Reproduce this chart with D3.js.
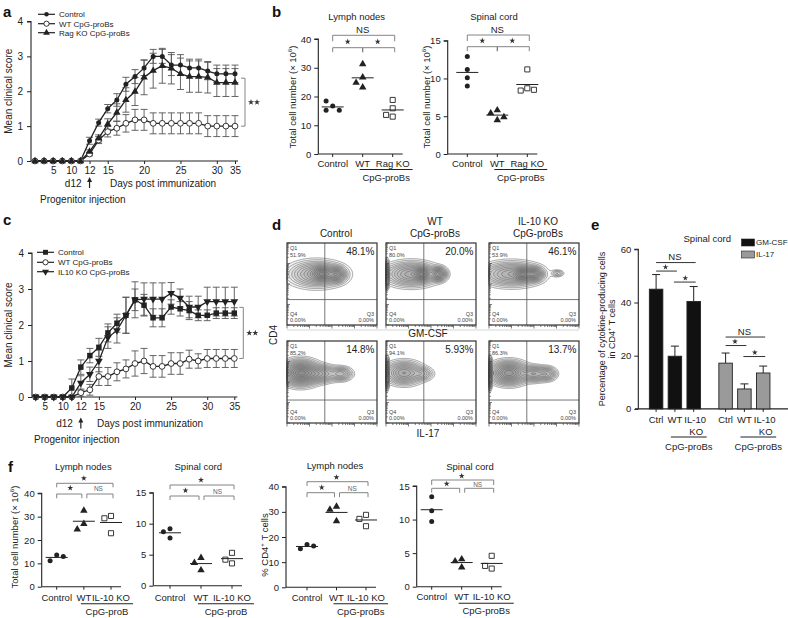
<!DOCTYPE html>
<html><head><meta charset="utf-8">
<script src="https://cdn.jsdelivr.net/npm/d3@7"></script>
<style>
body{margin:0;background:#fff;}
svg{display:block;}
</style></head><body>
<svg id="fig" width="788" height="618"></svg>
<script>
// ================= DATA =================
// Panel a – clinical score time course
const aDays = [1,3,5,8,10,11,12,14,15,16,17,19,20,21,22,24,25,26,27,29,30,32,35];
const aDayTicks = [5,10,12,15,20,25,30,35];
const aLegend = ["Control", "WT CpG-proBs", "Rag KO CpG-proBs"];
const aControl    = [0,0,0,0,0,0,0.58,1.10,1.50,1.75,2.20,2.42,2.67,3.00,3.00,2.75,2.75,2.67,2.67,2.58,2.50,2.50,2.50];
const aControlErr = [0,0,0,0,0,0,0.10,0.10,0.12,0.18,0.20,0.20,0.22,0.20,0.20,0.30,0.30,0.25,0.25,0.25,0.25,0.25,0.25];
const aWT         = [0,0,0,0,0,0,0.20,0.60,0.84,0.94,1.08,1.18,1.18,1.08,1.08,1.08,1.08,1.08,1.08,1.00,1.00,1.00,1.00];
const aWTErr      = [0,0,0,0,0,0,0.05,0.10,0.15,0.20,0.25,0.30,0.30,0.30,0.30,0.30,0.30,0.30,0.30,0.30,0.30,0.30,0.30];
const aRagKO      = [0,0,0,0,0,0,0.27,0.65,1.06,1.39,1.75,1.99,2.40,2.59,2.73,2.66,2.50,2.42,2.42,2.40,2.25,2.25,2.25];
const aRagKOErr   = [0,0,0,0,0,0,0.05,0.10,0.15,0.25,0.35,0.40,0.50,0.50,0.50,0.45,0.45,0.45,0.45,0.45,0.40,0.40,0.40];

// Panel c – clinical score time course
const cDays = [3,5,8,10,11,12,13,15,16,17,18,20,21,22,23,25,26,27,29,30,32,33,35];
const cDayTicks = [5,10,12,15,20,25,30,35];
const cLegend = ["Control", "WT CpG-proBs", "IL10 KO CpG-proBs"];
const cControl    = [0,0,0,0,0.25,0.83,1.15,1.38,1.78,2.05,2.27,2.70,2.55,2.20,2.20,2.50,2.45,2.40,2.27,2.27,2.33,2.33,2.33];
const cControlErr = [0,0,0,0,0.25,0.20,0.20,0.25,0.25,0.25,0.50,0.30,0.30,0.25,0.25,0.20,0.20,0.25,0.15,0.15,0.15,0.15,0.15];
const cWT         = [0,0,0,0,0,0.12,0.20,0.57,0.57,0.70,0.78,0.93,1.00,0.85,0.85,0.93,0.93,1.05,1.00,1.07,1.07,1.07,1.07];
const cWTErr      = [0,0,0,0,0,0.10,0.15,0.25,0.25,0.25,0.25,0.35,0.35,0.30,0.30,0.30,0.30,0.25,0.20,0.25,0.25,0.25,0.25];
const cIL10KO     = [0,0,0,0,0,0.39,0.63,1.00,1.65,1.85,2.27,2.70,2.72,2.72,2.72,2.88,2.75,2.50,2.50,2.65,2.65,2.65,2.65];
const cIL10KOErr  = [0,0,0,0,0,0.20,0.20,0.30,0.30,0.35,0.50,0.50,0.45,0.45,0.45,0.30,0.25,0.30,0.30,0.40,0.40,0.40,0.40];

// Panel b – total cell numbers (x10^6)
const bGroups = ["Control", "WT", "Rag KO"];
const bLymphControl = [16.7, 18.4, 15.2, 15.2];
const bLymphWT      = [31.3, 26.7, 23.2, 24.8];
const bLymphRagKO   = [18.8, 15.9, 13.0, 13.6];
const bSpinalControl = [12.9, 11.2, 10.1, 9.0];
const bSpinalWT      = [5.8, 5.4, 4.5, 4.9];
const bSpinalRagKO   = [11.2, 8.7, 8.4, 8.5];

// Panel d – flow cytometry (CD4 vs IL-17), quadrant percentages
const dColumns = [["Control"], ["WT", "CpG-proBs"], ["IL-10 KO", "CpG-proBs"]];
const dTopQ1 = ["51.9%", "80.0%", "53.9%"];
const dTopQ2 = ["48.1%", "20.0%", "46.1%"];
const dBotQ1 = ["85.2%", "94.1%", "86.3%"];
const dBotQ2 = ["14.8%", "5.93%", "13.7%"];
const dQ3 = "0.00%", dQ4 = "0.00%";
// population clusters [IL-17 axis fraction, CD4 axis fraction, sdX, sdY, weight]
const dTopClusters = [
  [[0.33,0.62,0.15,0.075,0.6],[0.39,0.625,0.06,0.045,1.0],[0.55,0.615,0.05,0.045,0.9]],
  [[0.01,0.62,0.012,0.07,1.2],[0.28,0.62,0.14,0.07,0.6],[0.40,0.62,0.05,0.04,0.9],[0.58,0.62,0.045,0.04,0.8]],
  [[0.25,0.62,0.16,0.07,0.6],[0.37,0.62,0.05,0.04,1.0],[0.50,0.62,0.05,0.04,0.9],[0.76,0.63,0.035,0.02,0.15]]
];
const dBotClusters = [
  [[0.15,0.61,0.10,0.07,1.0],[0.36,0.60,0.10,0.05,0.4],[0.60,0.60,0.06,0.04,0.3]],
  [[0.01,0.61,0.012,0.08,1.4],[0.20,0.61,0.10,0.065,0.7],[0.40,0.60,0.06,0.04,0.25]],
  [[0.01,0.61,0.012,0.08,1.0],[0.22,0.61,0.10,0.065,0.8],[0.50,0.60,0.08,0.045,0.4],[0.65,0.60,0.05,0.04,0.25]]
];

// Panel e – % cytokine-producing cells in CD4+ T cells
const eGroups = ["Ctrl", "WT", "IL-10 KO"];
const eCytokines = ["GM-CSF", "IL-17"];
const eGMCSF    = [45.0, 19.8, 40.4];
const eGMCSFErr = [5.5, 3.8, 5.6];
const eIL17     = [17.2, 7.5, 13.5];
const eIL17Err  = [3.8, 1.9, 2.6];

// Panel f
const fGroups = ["Control", "WT", "IL-10 KO"];
const fLymphTotalControl = [13.6, 11.1, 12.9];
const fLymphTotalWT      = [32.6, 26.9, 24.6];
const fLymphTotalIL10KO  = [30.3, 29.3, 22.9];
const fSpinalTotalControl = [9.2, 8.7, 7.7];
const fSpinalTotalWT      = [4.5, 3.7, 2.5];
const fSpinalTotalIL10KO  = [5.3, 3.6, 4.2];
const fLymphCD4Control = [17.0, 15.3, 16.4];
const fLymphCD4WT      = [32.1, 30.9, 26.3];
const fLymphCD4IL10KO  = [28.8, 27.2, 24.3];
const fSpinalCD4Control = [13.4, 11.3, 9.7];
const fSpinalCD4WT      = [4.1, 3.8, 2.9];
const fSpinalCD4IL10KO  = [4.6, 2.7, 3.1];

// ================= DRAWING =================
const FONT = '"Liberation Sans", Arial, Helvetica, sans-serif';
const INK = '#222';
const svg = d3.select('#fig').attr('font-family', FONT);
svg.append('rect').attr('width', 788).attr('height', 618).attr('fill', '#fff');

function T(g, x, cy, s, o = {}) {
  const size = o.size || 10;
  const t = g.append('text').attr('font-size', size).attr('fill', o.fill || INK)
    .attr('text-anchor', o.anchor || 'middle');
  if (o.weight) t.attr('font-weight', o.weight);
  if (o.rotate) t.attr('transform', `translate(${x + size * 0.35},${cy}) rotate(-90)`);
  else t.attr('x', x).attr('y', cy + size * 0.35);
  const parts = Array.isArray(s) ? s : [[s, 0]];
  let raised = false;
  parts.forEach(([str, sup]) => {
    const ts = t.append('tspan').text(str);
    if (sup) {
      ts.attr('font-size', size * 0.65);
      if (!raised) { ts.attr('dy', -size * 0.42); raised = true; }
    } else if (raised) { ts.attr('dy', size * 0.42); raised = false; }
  });
  return t;
}
function styleAxis(sel, size) {
  sel.attr('font-size', size).attr('font-family', FONT);
  sel.selectAll('text').attr('fill', INK);
  sel.selectAll('line').attr('stroke', INK).attr('stroke-width', 1);
  sel.selectAll('path.domain').attr('stroke', INK).attr('stroke-width', 1.1);
}
function marker(g, type, x, y, k = 1) {
  const sym = (s, size) => g.append('path').attr('d', d3.symbol(s, size * k * k)()).attr('transform', `translate(${x},${y})`);
  switch (type) {
    case 'dot': return g.append('circle').attr('cx', x).attr('cy', y).attr('r', 2.5 * k).attr('fill', INK);
    case 'odot': return g.append('circle').attr('cx', x).attr('cy', y).attr('r', 2.9 * k).attr('fill', '#fff').attr('stroke', INK).attr('stroke-width', 0.9);
    case 'tri': return sym(d3.symbolTriangle, 24).attr('fill', INK);
    case 'itri': return sym(d3.symbolTriangle, 26).attr('fill', INK).attr('transform', `translate(${x},${y}) rotate(180)`);
    case 'square': return sym(d3.symbolSquare, 30).attr('fill', INK);
    case 'osquare': return sym(d3.symbolSquare, 26).attr('fill', '#fff').attr('stroke', INK).attr('stroke-width', 0.9);
  }
}
function star(g, x, y, size = 11, fill = '#333') {
  g.append('path').attr('d', d3.symbol(d3.symbolStar, size)()).attr('transform', `translate(${x},${y})`).attr('fill', fill);
}

// ---------- time course (a, c) ----------
function timeCourse(o) {
  const g = svg.append('g');
  const x = d3.scalePoint().domain(o.days).range([o.x0, o.x1]);
  const y = d3.scaleLinear().domain([0, 4]).range([o.yb, o.yt]);
  const ya = g.append('g').attr('transform', `translate(${o.ax},0)`)
    .call(d3.axisLeft(y).tickValues([0, 1, 2, 3, 4]).tickSize(4).tickPadding(4).tickFormat(d3.format('d')));
  styleAxis(ya, 10);
  ya.select('.domain').attr('d', `M-4,${o.yt}H0V${o.yb}`);
  const xa = g.append('g').attr('transform', `translate(0,${o.yb})`)
    .call(d3.axisBottom(x).tickValues(o.ticks).tickSize(3).tickPadding(3));
  styleAxis(xa, 10);
  xa.select('.domain').remove();
  g.append('line').attr('x1', o.ax).attr('x2', o.x1 + 3).attr('y1', o.yb).attr('y2', o.yb).attr('stroke', INK).attr('stroke-width', 1.1);
  T(g, o.ylabX, (o.yb + o.yt) / 2, 'Mean clinical score', { size: 10, rotate: true });
  // error bars
  o.series.forEach(s => s.values.forEach((v, i) => {
    const e = s.err[i]; if (!e) return;
    const cx = x(o.days[i]);
    const y1 = y(v + e), y2 = y(Math.max(0, v - e));
    g.append('line').attr('x1', cx).attr('x2', cx).attr('y1', y1).attr('y2', y2).attr('stroke', '#555').attr('stroke-width', 0.9);
    [y1, y2].forEach(yy => g.append('line').attr('x1', cx - 3.5).attr('x2', cx + 3.5).attr('y1', yy).attr('y2', yy).attr('stroke', '#555').attr('stroke-width', 0.9));
  }));
  o.series.forEach(s => g.append('path').datum(s.values)
    .attr('d', d3.line().x((d, i) => x(o.days[i])).y(d => y(d)))
    .attr('fill', 'none').attr('stroke', INK).attr('stroke-width', 1.3));
  o.series.forEach(s => s.values.forEach((v, i) => marker(g, s.marker, x(o.days[i]), y(v))));
  // legend
  o.series.forEach((s, i) => {
    const ly = o.legY[i];
    g.append('line').attr('x1', o.legX).attr('x2', o.legX + 17).attr('y1', ly).attr('y2', ly).attr('stroke', INK).attr('stroke-width', 1.2);
    marker(g, s.marker, o.legX + 8.5, ly, 0.9);
    T(g, o.legX + 21, ly, s.name, { size: 8, anchor: 'start' });
  });
  // significance bracket
  const last = o.days.length - 1;
  const top = y(d3.mean(o.series.filter(s => s.high), s => s.values[last]));
  const bot = y(o.series.find(s => !s.high).values[last]);
  g.append('path').attr('d', `M${o.bx - 4},${top}H${o.bx}V${bot}H${o.bx - 4}`).attr('fill', 'none').attr('stroke', '#777').attr('stroke-width', 0.9);
  star(g, o.bx + 6, (top + bot) / 2, 12); star(g, o.bx + 12, (top + bot) / 2, 12);
  // day-12 annotation
  const ax12 = x(12);
  T(g, ax12 - 8, o.annY, 'd12', { size: 10, anchor: 'end' });
  g.append('line').attr('x1', ax12).attr('x2', ax12).attr('y1', o.annY + 5).attr('y2', o.annY - 2).attr('stroke', INK).attr('stroke-width', 1.2);
  g.append('path').attr('d', `M${ax12 - 2.5},${o.annY - 1}L${ax12},${o.annY - 6}L${ax12 + 2.5},${o.annY - 1}Z`).attr('fill', INK);
  T(g, o.daysX, o.annY, 'Days post immunization', { size: 10, anchor: 'start' });
  T(g, o.progX, o.annY + 16, 'Progenitor injection', { size: 10, anchor: 'start' });
}

timeCourse({
  days: aDays, ticks: aDayTicks, ax: 31, x0: 35, x1: 235, yb: 161, yt: 21.5, ylabX: 8,
  series: [
    { name: aLegend[0], values: aControl, err: aControlErr, marker: 'dot', high: true },
    { name: aLegend[1], values: aWT, err: aWTErr, marker: 'odot', high: false },
    { name: aLegend[2], values: aRagKO, err: aRagKOErr, marker: 'tri', high: true }
  ],
  legX: 38, legY: [14.3, 23.7, 32.7], bx: 245, annY: 183, daysX: 110, progX: 40
});
timeCourse({
  days: cDays, ticks: cDayTicks, ax: 32, x0: 35.7, x1: 234.3, yb: 397, yt: 253, ylabX: 8,
  series: [
    { name: cLegend[0], values: cControl, err: cControlErr, marker: 'square', high: true },
    { name: cLegend[1], values: cWT, err: cWTErr, marker: 'odot', high: false },
    { name: cLegend[2], values: cIL10KO, err: cIL10KOErr, marker: 'itri', high: true }
  ],
  legX: 37, legY: [252.3, 262.3, 271.7], bx: 243.3, annY: 423.5, daysX: 97, progX: 34
});

// ---------- dot plots (b, f) ----------
function dodge(values, y, cx, r) {
  const placed = [], xs = [];
  values.forEach((v, i) => {
    const py = y(v), step = 2 * r + 1.2;
    for (const k of [0, -1, 1, -2, 2, -3, 3]) {
      const px = cx + k * step;
      if (placed.every(p => Math.hypot(p[0] - px, p[1] - py) >= 2 * r + 0.6)) { placed.push([px, py]); xs[i] = px; break; }
    }
  });
  return xs;
}
function dotPlot(o) {
  const g = svg.append('g');
  const y = d3.scaleLinear().domain([0, o.max]).range([o.yb, o.yt]);
  const x = d3.scalePoint().domain(o.groups).range([o.c0, o.c1]);
  const ya = g.append('g').attr('transform', `translate(${o.ax},0)`)
    .call(d3.axisLeft(y).tickValues(o.ticks).tickSize(4).tickPadding(3));
  styleAxis(ya, 9.5);
  ya.select('.domain').attr('d', `M-4,${o.yt}H0V${o.yb}`);
  g.append('line').attr('x1', o.ax).attr('x2', o.c1 + 10).attr('y1', o.yb).attr('y2', o.yb).attr('stroke', INK).attr('stroke-width', 1.1);
  o.groups.forEach(c => g.append('line').attr('x1', x(c)).attr('x2', x(c)).attr('y1', o.yb).attr('y2', o.yb + 3).attr('stroke', INK));
  T(g, o.titleX, o.titleY, o.title, { size: 9.5 });
  if (o.ylabel) T(g, o.ylabel[0], o.ylabel[1], o.ylabel[2], { size: 9.5, rotate: true });
  const labs = o.groups.map(c => T(g, x(c), o.labY, c, { size: 9.5 }));
  const ll = labs[2].node().getBBox();
  const u0 = x(o.groups[1]) - 3, u1 = ll.x + ll.width + 3;
  g.append('line').attr('x1', u0).attr('x2', u1).attr('y1', o.labY + 6.2).attr('y2', o.labY + 6.2).attr('stroke', INK).attr('stroke-width', 1.1);
  T(g, (u0 + u1) / 2, o.labY + 14, o.groupLabel, { size: 9.5 });
  // points
  o.sets.forEach((vals, gi) => {
    const cx = x(o.groups[gi]);
    const xs = dodge(vals, y, cx, 2.7);
    vals.forEach((v, i) => marker(g, o.markers[gi], xs[i], y(v)));
    const m = y(d3.mean(vals));
    g.append('line').attr('x1', cx - 11).attr('x2', cx + 11).attr('y1', m).attr('y2', m).attr('stroke', INK).attr('stroke-width', 1);
  });
  // brackets
  const bc = '#777';
  const br = (x1, x2, yy, tk) => g.append('path').attr('d', `M${x1},${yy + tk}V${yy}H${x2}V${yy + tk}`).attr('fill', 'none').attr('stroke', bc).attr('stroke-width', 0.9);
  const X = i => x(o.groups[i]);
  const B = o.br;
  br(X(0), X(2) + 2, B.top, B.topTick);
  if (o.shared) {
    br(X(0), X(1), B.low, B.lowTick); br(X(1), X(2) + 2, B.low, B.lowTick);
  } else {
    br(X(0), X(1) - 2, B.low, B.lowTick); br(X(1) + 3, X(2) + 2, B.low, B.lowTick);
  }
  const mid01 = (X(0) + X(1)) / 2, mid12 = (X(1) + X(2)) / 2;
  if (o.topLabel === 'NS') T(g, (X(0) + X(2)) / 2, B.topText, 'NS', { size: 9.5 });
  else star(g, (X(0) + X(2)) / 2, B.topText, 11);
  star(g, mid01, B.lowText, 11);
  if (o.rightLabel === 'NS') T(g, mid12 + 1, B.lowText + 1, 'NS', { size: 6.5, fill: '#666' });
  else star(g, mid12, B.lowText, 11);
}

dotPlot({
  groups: bGroups, sets: [bLymphControl, bLymphWT, bLymphRagKO], markers: ['dot', 'tri', 'osquare'],
  max: 40, ticks: [0, 10, 20, 30, 40], ax: 318.3, yb: 154, yt: 39, c0: 332.7, c1: 392.7,
  title: 'Lymph nodes', titleX: 356.7, titleY: 16.7,
  ylabel: [293, 97, [['Total cell number (× 10', 0], ['6', 1], [')', 0]]],
  labY: 163.3, groupLabel: 'CpG-proBs', shared: true, topLabel: 'NS', rightLabel: '*',
  br: { top: 35.3, topTick: 6, topText: 30, low: 47.7, lowTick: 4.5, lowText: 41.7 }
});
dotPlot({
  groups: bGroups, sets: [bSpinalControl, bSpinalWT, bSpinalRagKO], markers: ['dot', 'tri', 'osquare'],
  max: 15, ticks: [0, 5, 10, 15], ax: 447.7, yb: 154, yt: 40.7, c0: 467.3, c1: 527.3,
  title: 'Spinal cord', titleX: 494, titleY: 16.7,
  ylabel: [426.7, 97, [['Total cell number (× 10', 0], ['6', 1], [')', 0]]],
  labY: 163.3, groupLabel: 'CpG-proBs', shared: true, topLabel: 'NS', rightLabel: '*',
  br: { top: 35, topTick: 6, topText: 30, low: 46.7, lowTick: 4.5, lowText: 40.7 }
});
dotPlot({
  groups: fGroups, sets: [fLymphTotalControl, fLymphTotalWT, fLymphTotalIL10KO], markers: ['dot', 'tri', 'osquare'],
  max: 40, ticks: [0, 10, 20, 30, 40], ax: 41.7, yb: 586.7, yt: 493.3, c0: 56.7, c1: 111,
  title: 'Lymph nodes', titleX: 83.3, titleY: 466.7,
  ylabel: [15, 537, [['Total cell number (× 10', 0], ['6', 1], [')', 0]]],
  labY: 597.5, groupLabel: 'CpG-proB', shared: false, topLabel: '*', rightLabel: 'NS',
  br: { top: 483.3, topTick: 4, topText: 478.3, low: 494, lowTick: 4.3, lowText: 488 }
});
dotPlot({
  groups: fGroups, sets: [fSpinalTotalControl, fSpinalTotalWT, fSpinalTotalIL10KO], markers: ['dot', 'tri', 'osquare'],
  max: 15, ticks: [0, 5, 10, 15], ax: 153.3, yb: 585.7, yt: 492.7, c0: 170, c1: 232,
  title: 'Spinal cord', titleX: 198.3, titleY: 466.7,
  labY: 597.5, groupLabel: 'CpG-proB', shared: false, topLabel: '*', rightLabel: 'NS',
  br: { top: 485, topTick: 4.3, topText: 480, low: 496, lowTick: 4, lowText: 490.5 }
});
dotPlot({
  groups: fGroups, sets: [fLymphCD4Control, fLymphCD4WT, fLymphCD4IL10KO], markers: ['dot', 'tri', 'osquare'],
  max: 40, ticks: [0, 10, 20, 30, 40], ax: 286, yb: 587.3, yt: 486.7, c0: 307, c1: 366,
  title: 'Lymph nodes', titleX: 335, titleY: 466,
  ylabel: [265, 545, [['% CD4', 0], ['+', 1], [' T cells', 0]]],
  labY: 597.5, groupLabel: 'CpG-proBs', shared: false, topLabel: '*', rightLabel: 'NS',
  br: { top: 481.7, topTick: 4.3, topText: 477.3, low: 492.7, lowTick: 4.5, lowText: 487.5 }
});
dotPlot({
  groups: fGroups, sets: [fSpinalCD4Control, fSpinalCD4WT, fSpinalCD4IL10KO], markers: ['dot', 'tri', 'osquare'],
  max: 15, ticks: [0, 5, 10, 15], ax: 416.7, yb: 586.7, yt: 486, c0: 431.7, c1: 491.7,
  title: 'Spinal cord', titleX: 470, titleY: 466.7,
  labY: 597, groupLabel: 'CpG-proBs', shared: false, topLabel: '*', rightLabel: 'NS',
  br: { top: 480, topTick: 5, topText: 476, low: 488.3, lowTick: 4.4, lowText: 483.8 }
});

// ---------- flow plots (d) ----------
(function () {
  const g = svg.append('g');
  const W = 90, H = 82;
  const bxs = [287, 386, 489];
  const rows = [
    { by: 243, q1: dTopQ1, q2: dTopQ2, cl: dTopClusters, gy: 0.31 },
    { by: 341, q1: dBotQ1, q2: dBotQ2, cl: dBotClusters, gy: 0.28 }
  ];
  const rel = [0.012, 0.025, 0.045, 0.07, 0.1, 0.14, 0.19, 0.25, 0.32, 0.4, 0.49, 0.59, 0.7, 0.82, 0.93];
  dColumns.forEach((lines, ci) => {
    const cx = bxs[ci] + W / 2 + 4;
    lines.forEach((l, li) => T(g, cx, 233.3 - (lines.length - 1 - li) * 11.6, l, { size: 10 }));
  });
  rows.forEach(row => {
    bxs.forEach((bx, ci) => {
      const by = row.by;
      const cg = g.append('g').attr('transform', `translate(${bx},${by})`);
      const xs = d3.scaleLinear().domain([0, 1]).range([0, W]);
      const ys = d3.scaleLinear().domain([0, 1]).range([H, 0]);
      const vals = new Float64Array(W * H);
      const cl = row.cl[ci];
      for (let j = 0; j < H; j++) for (let i = 0; i < W; i++) {
        const fx = xs.invert(i + 0.5), fy = ys.invert(j + 0.5);
        let s = 0;
        cl.forEach(([mx, my, sx, sy, w]) => { s += w * Math.exp(-0.5 * (((fx - mx) / sx) ** 2 + ((fy - my) / sy) ** 2)); });
        vals[i + j * W] = s;
      }
      const mx = d3.max(vals);
      const contours = d3.contours().size([W, H]).thresholds(rel.map(r => r * mx))(vals);
      cg.selectAll('path.ct').data(contours).join('path').attr('class', 'ct')
        .attr('d', d3.geoPath()).attr('fill', '#000').attr('fill-opacity', 0.035)
        .attr('stroke', '#5a5a5a').attr('stroke-width', 0.55);
      // gates
      const gx = xs(0.42), gyy = ys(row.gy);
      cg.append('line').attr('x1', gx).attr('x2', gx).attr('y1', 0).attr('y2', H).attr('stroke', '#555').attr('stroke-width', 0.8);
      cg.append('line').attr('x1', 0).attr('x2', W).attr('y1', gyy).attr('y2', gyy).attr('stroke', '#555').attr('stroke-width', 0.8);
      cg.append('rect').attr('width', W).attr('height', H).attr('fill', 'none').attr('stroke', '#333').attr('stroke-width', 1.2);
      // log axis ticks
      const lx = d3.scaleLog().domain([10, 1e5]).range([0, W]);
      const ly = d3.scaleLog().domain([10, 1e5]).range([H, 0]);
      lx.ticks().forEach(t => {
        const major = Math.abs(Math.log10(t) % 1) < 1e-6;
        cg.append('line').attr('x1', lx(t)).attr('x2', lx(t)).attr('y1', H).attr('y2', H + (major ? 3.5 : 2)).attr('stroke', '#444').attr('stroke-width', 0.7);
      });
      ly.ticks().forEach(t => {
        const major = Math.abs(Math.log10(t) % 1) < 1e-6;
        cg.append('line').attr('y1', ly(t)).attr('y2', ly(t)).attr('x1', 0).attr('x2', major ? 3 : 1.8).attr('stroke', '#444').attr('stroke-width', 0.7);
      });
      // quadrant labels
      T(cg, 3, 5.5, 'Q1', { size: 5.5, anchor: 'start', fill: '#444' });
      T(cg, 3, 12.5, row.q1[ci], { size: 5.5, anchor: 'start', fill: '#444' });
      T(cg, W - 2.5, 8.5, row.q2[ci], { size: 10, anchor: 'end' });
      T(cg, 3, H - 11, 'Q4', { size: 5.5, anchor: 'start', fill: '#444' });
      T(cg, 3, H - 4.5, dQ4, { size: 5.5, anchor: 'start', fill: '#444' });
      T(cg, W - 3, H - 11, 'Q3', { size: 5.5, anchor: 'end', fill: '#444' });
      T(cg, W - 3, H - 4.5, dQ3, { size: 5.5, anchor: 'end', fill: '#444' });
    });
  });
  g.append('line').attr('x1', 287).attr('x2', 579).attr('y1', 330).attr('y2', 330).attr('stroke', '#ccc').attr('stroke-width', 0.8);
  T(g, 428, 333.5, 'GM-CSF', { size: 10 });
  T(g, 428, 433.3, 'IL-17', { size: 10 });
  T(g, 273, 335, 'CD4', { size: 10, rotate: true });
})();

// ---------- bar chart (e) ----------
(function () {
  const g = svg.append('g');
  const ax = 638.3, yb = 408.9, yt = 249.3;
  const y = d3.scaleLinear().domain([0, 60]).range([yb, yt]);
  const xg = d3.scalePoint().domain(eCytokines).range([674.9, 744.4]);
  const xi = d3.scalePoint().domain(eGroups).range([-18.8, 18.8]);
  const bw = 13.5;
  const ya = g.append('g').attr('transform', `translate(${ax},0)`)
    .call(d3.axisLeft(y).tickValues([0, 20, 40, 60]).tickSize(4).tickPadding(3));
  styleAxis(ya, 9.5);
  ya.select('.domain').attr('d', `M-4,${yt}H0V${yb}`);
  g.append('line').attr('x1', 635).attr('x2', 788).attr('y1', yb).attr('y2', yb).attr('stroke', INK).attr('stroke-width', 1.3);
  const sets = [[eGMCSF, eGMCSFErr, '#111'], [eIL17, eIL17Err, '#9a9a9a']];
  sets.forEach(([vals, errs, fill], si) => {
    const gc = xg(eCytokines[si]);
    vals.forEach((v, i) => {
      const cx = gc + xi(eGroups[i]);
      const ye = y(v + errs[i]);
      g.append('line').attr('x1', cx).attr('x2', cx).attr('y1', y(v)).attr('y2', ye).attr('stroke', '#222').attr('stroke-width', 1);
      g.append('line').attr('x1', cx - 4).attr('x2', cx + 4).attr('y1', ye).attr('y2', ye).attr('stroke', '#222').attr('stroke-width', 1);
      g.append('rect').attr('x', cx - bw / 2).attr('width', bw).attr('y', y(v)).attr('height', yb - y(v))
        .attr('fill', fill).attr('stroke', '#222').attr('stroke-width', 0.9);
      g.append('line').attr('x1', cx).attr('x2', cx).attr('y1', yb).attr('y2', yb + 3).attr('stroke', INK);
    });
    // labels
    T(g, gc + xi('Ctrl'), 420, 'Ctrl', { size: 9.5 });
    T(g, gc + xi('WT'), 420, 'WT', { size: 9.5 });
    T(g, gc + xi('IL-10 KO') + 1.5, 420, 'IL-10', { size: 9.5 });
    T(g, gc + xi('IL-10 KO') + 2.5, 431.7, 'KO', { size: 9.5 });
    const u0 = gc + xi('WT') - 4, u1 = gc + xi('IL-10 KO') + 13;
    g.append('line').attr('x1', u0).attr('x2', u1).attr('y1', 437).attr('y2', 437).attr('stroke', INK).attr('stroke-width', 1.1);
    T(g, (u0 + u1) / 2, 446.5, 'CpG-proBs', { size: 9.5 });
    // significance lines
    const X = i => gc + xi(eGroups[i]);
    const topV = d3.max(vals.map((v, i) => v + errs[i]));
    const base = y(topV);
    const L = (x1, x2, yy) => g.append('line').attr('x1', x1).attr('x2', x2).attr('y1', yy).attr('y2', yy).attr('stroke', '#333').attr('stroke-width', 1);
    const yNS = base - (si === 0 ? 12 : 16), yS1 = yNS + 8.5, yS2 = yNS + 19.5;
    L(X(0), X(2) + 2, yNS); T(g, (X(0) + X(2)) / 2, yNS - 5.5, 'NS', { size: 9.5 });
    L(X(0), X(1) + 2, yS1); star(g, (X(0) + X(1)) / 2, yS1 - 4, 10);
    L(X(1) - 1, X(2) + 2, yS2); star(g, (X(1) + X(2)) / 2 + 1, yS2 - 4, 10);
  });
  T(g, 707.3, 238.3, 'Spinal cord', { size: 9.5 });
  eCytokines.forEach((c, i) => {
    const ly = 242.5 + i * 12;
    g.append('rect').attr('x', 741.5).attr('y', ly - 3.5).attr('width', 13).attr('height', 7)
      .attr('fill', sets[i][2]).attr('stroke', '#222').attr('stroke-width', 0.6);
    T(g, 756, ly, c, { size: 8, anchor: 'start' });
  });
  T(g, 601.7, 329, 'Percentage of cytokine-producing cells', { size: 9, rotate: true });
  T(g, 611.7, 329, [['in CD4', 0], ['+', 1], [' T cells', 0]], { size: 9, rotate: true });
})();

// ---------- panel letters ----------
[['a', 3, 12], ['b', 272, 12], ['c', 3, 220], ['d', 272, 225], ['e', 591, 225], ['f', 8, 467]]
  .forEach(([l, x, y]) => T(svg, x, y, l, { size: 15, weight: 'bold', anchor: 'start', fill: '#111' }));
</script></body></html>
